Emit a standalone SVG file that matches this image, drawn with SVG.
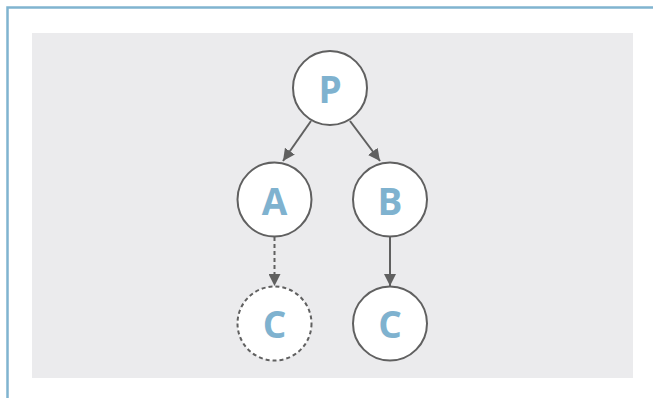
<svg xmlns="http://www.w3.org/2000/svg" width="653" height="398" viewBox="0 0 653 398">
<style>
.node{fill:#ffffff;stroke:#606060;stroke-width:2}
.dash{stroke-dasharray:4 3}
.lbl{font-family:"Open Sans","Noto Sans",sans-serif;font-weight:bold;font-size:37px;fill:#7fb2cf;text-anchor:middle}
.edge{stroke:#606060;stroke-width:2;fill:none}
</style>
<defs>
<marker id="arr" viewBox="0 0 12 12" refX="12" refY="6" markerWidth="12" markerHeight="12" markerUnits="userSpaceOnUse" orient="auto">
<path d="M0,0 L12,6 L0,12 Z" fill="#606060"/>
</marker>
</defs>
<rect x="7.5" y="7.5" width="700" height="500" fill="#ffffff" stroke="#80b4d0" stroke-width="2.5"/>
<rect x="32" y="33" width="601" height="345" fill="#ebebed"/>
<g id="connectors">
<line class="edge" x1="311" y1="121" x2="283" y2="161" marker-end="url(#arr)"/>
<line class="edge" x1="350" y1="121" x2="380" y2="161" marker-end="url(#arr)"/>
<line class="edge dash" x1="274.5" y1="237" x2="274.5" y2="286" marker-end="url(#arr)"/>
<line class="edge" x1="390" y1="237" x2="390" y2="286" marker-end="url(#arr)"/>
</g>
<g id="node-P"><circle class="node" cx="330" cy="88" r="37"/><text class="lbl" x="330" y="103">P</text></g>
<g id="node-A"><circle class="node" cx="274.5" cy="199.5" r="37"/><text class="lbl" x="274.5" y="215">A</text></g>
<g id="node-B"><circle class="node" cx="390" cy="199.5" r="37"/><text class="lbl" x="390" y="215">B</text></g>
<g id="node-C1"><circle class="node dash" cx="274.5" cy="323.5" r="37"/><text class="lbl" x="274.5" y="338">C</text></g>
<g id="node-C2"><circle class="node" cx="390" cy="323.5" r="37"/><text class="lbl" x="390" y="338">C</text></g>
</svg>
